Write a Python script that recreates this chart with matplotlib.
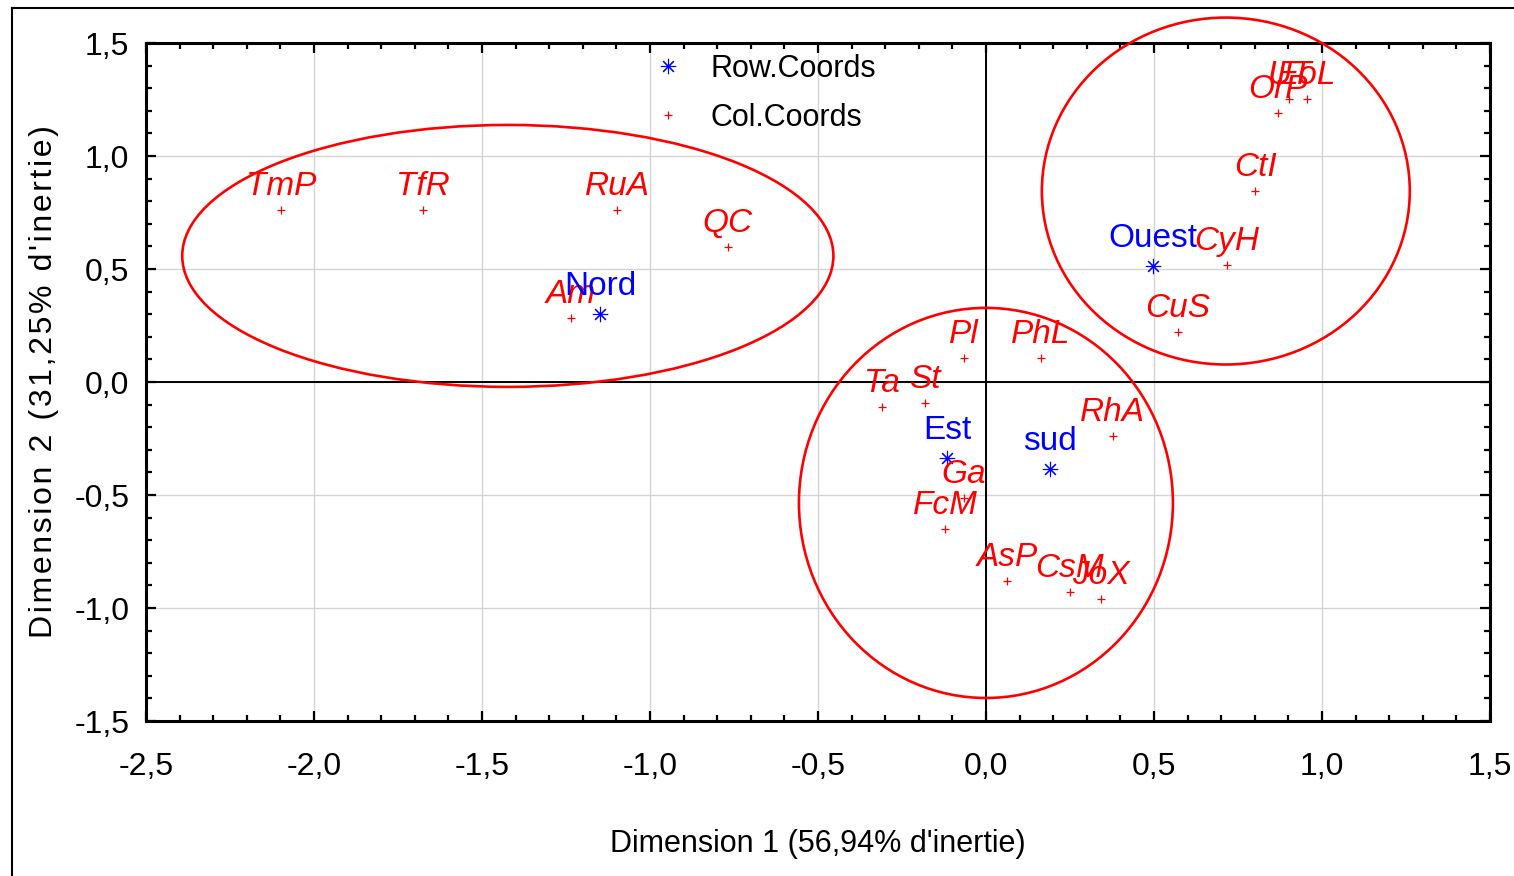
import matplotlib
matplotlib.use("Agg")
import matplotlib.pyplot as plt
from matplotlib.patches import Ellipse
from matplotlib.ticker import MultipleLocator, FuncFormatter
from matplotlib.lines import Line2D

plt.rcParams["font.family"] = ["Liberation Sans Narrow", "Liberation Sans", "DejaVu Sans"]

# Row coordinates (regions)
row_labels = ["Nord", "Est", "sud", "Ouest"]
row_x = [-1.149, -0.116, 0.190, 0.497]
row_y = [0.301, -0.336, -0.385, 0.513]

# Column coordinates (species)
col_labels = ["TmP", "TfR", "RuA", "QC", "Am", "Pl", "PhL", "Ta", "St", "Ga",
              "FcM", "AsP", "CsM", "JoX", "RhA", "CyH", "CuS", "CtI", "OrP",
              "UT", "EoL"]
col_x = [-2.098, -1.676, -1.098, -0.768, -1.235, -0.065, 0.164, -0.310, -0.182,
         -0.065, -0.122, 0.063, 0.250, 0.342, 0.378, 0.717, 0.571, 0.801, 0.869,
         0.903, 0.955]
col_y = [0.761, 0.761, 0.761, 0.597, 0.283, 0.106, 0.106, -0.111, -0.093,
         -0.513, -0.650, -0.881, -0.929, -0.960, -0.239, 0.518, 0.221, 0.845,
         1.190, 1.252, 1.252]

# Groups outlined on the map: centre x, centre y, width, height
groups = [
    (-1.423, 0.558, 1.938, 1.159),
    (0.714, 0.845, 1.095, 1.535),
    (0.000, -0.535, 1.113, 1.726),
]

fig = plt.figure(figsize=(15.14, 8.76), dpi=100)
ax = fig.add_axes([0.0964, 0.1769, 0.8877, 0.774])

ax.set_xlim(-2.5, 1.5)
ax.set_ylim(-1.5, 1.5)
ax.xaxis.set_major_locator(MultipleLocator(0.5))
ax.yaxis.set_major_locator(MultipleLocator(0.5))
ax.xaxis.set_minor_locator(MultipleLocator(0.1))
ax.yaxis.set_minor_locator(MultipleLocator(0.1))
fmt = FuncFormatter(lambda v, pos: f"{v:.1f}".replace(".", ",").replace("\u2212", "-"))
ax.xaxis.set_major_formatter(fmt)
ax.yaxis.set_major_formatter(fmt)
ax.tick_params(which="both", direction="in", top=True, right=True, width=1.6,
               labelsize=23)
ax.tick_params(which="major", length=7)
ax.tick_params(which="minor", length=4)
ax.tick_params(axis="x", pad=22)
ax.tick_params(axis="y", pad=12)
for sp in ax.spines.values():
    sp.set_linewidth(2.2)

ax.grid(True, which="major", color="#d4d4d4", linewidth=1.0)
ax.set_axisbelow(True)
ax.axhline(0, color="black", linewidth=1.4, zorder=1)
ax.axvline(0, color="black", linewidth=1.4, zorder=1)

ax.plot(row_x, row_y, linestyle="none", marker=(8, 2, 0), markersize=11,
        markeredgewidth=0.8, color="blue", label="Row.Coords", zorder=3)
ax.plot(col_x, col_y, linestyle="none", marker="+", markersize=6,
        markeredgewidth=0.9, color="red", label="Col.Coords", zorder=3)

for name, x, y in zip(col_labels, col_x, col_y):
    ax.annotate(name, (x, y), xytext=(0, 11), textcoords="offset points",
                ha="center", va="baseline", color="red", style="italic",
                fontsize=24, zorder=4)
for name, x, y in zip(row_labels, row_x, row_y):
    ax.annotate(name, (x, y), xytext=(0, 14), textcoords="offset points",
                ha="center", va="baseline", color="blue", fontsize=24, zorder=4)

for cx, cy, w, h in groups:
    ax.add_patch(Ellipse((cx, cy), w, h, fill=False, edgecolor="red",
                         linewidth=1.9, clip_on=False, zorder=5))

ax.legend(loc="upper left", bbox_to_anchor=(0.354, 1.025), frameon=False,
          fontsize=22, handlelength=1.2, handletextpad=0.8, labelspacing=0.62)

ax.set_xlabel("Dimension 1 (56,94% d'inertie)", fontsize=22, labelpad=34)

# the vertical title is set with a little extra letter spacing
ylab = "\u200a".join("Dimension 2 (31,25% d'inertie)")
ax.set_ylabel(ylab, fontsize=23, labelpad=11)

# outer frame around the figure (left and top edges)
fig.add_artist(Line2D([12 / 1514, 12 / 1514], [0, 1 - 8 / 876],
                      transform=fig.transFigure, color="black", linewidth=1.5))
fig.add_artist(Line2D([12 / 1514, 1], [1 - 8 / 876, 1 - 8 / 876],
                      transform=fig.transFigure, color="black", linewidth=1.5))

fig.savefig("out.png", dpi=100)
